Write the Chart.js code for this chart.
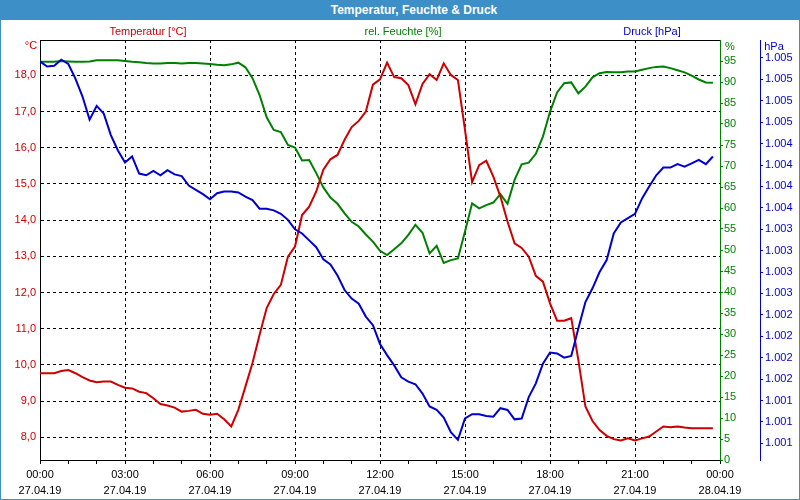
<!DOCTYPE html>
<html>
<head>
<meta charset="utf-8">
<script src="https://cdn.jsdelivr.net/npm/chart.js@4.4.1/dist/chart.umd.min.js"></script>
<style>
  body { margin: 0; background: #fff; font-family: "Liberation Sans", Arial, sans-serif; }
  #wrap { position: relative; width: 800px; height: 500px; overflow: hidden; }
  #grafik { display: block; }
  #rahmen { position: absolute; left: 0; top: 0; width: 800px; height: 500px; box-sizing: border-box; border: 1px solid #3d8fc7; pointer-events: none; }
  #titelbalken { position: absolute; left: 0; top: 0; width: 800px; height: 20px; background: #3d8fc7; }
  .lbl { position: absolute; font-size: 11px; white-space: nowrap; transform: translate(-50%, -50%); }
  .titel { color: #fff; font-weight: bold; font-size: 12px; }
</style>
</head>
<body>
<div id="wrap">
  <canvas id="grafik" width="800" height="500"></canvas>
  <div id="titelbalken"></div>
  <div class="lbl titel" style="left:414px; top:10px">Temperatur, Feuchte &amp; Druck</div>
  <div class="lbl" style="left:148px; top:31px; color:#cc0000">Temperatur [°C]</div>
  <div class="lbl" style="left:403px; top:31px; color:#008000">rel. Feuchte [%]</div>
  <div class="lbl" style="left:652px; top:31px; color:#0000cc">Druck [hPa]</div>
  <div class="lbl" style="left:31px; top:45px; color:#cc0000">°C</div>
  <div class="lbl" style="left:730px; top:46px; color:#008000">%</div>
  <div class="lbl" style="left:774px; top:46px; color:#0000cc">hPa</div>
  <div id="rahmen"></div>
</div>
<script>
// Messwerte alle 15 Minuten, 27.04.19 00:00 bis 23:45
const temperatur = [
  9.77, 9.77, 9.77, 9.83, 9.86, 9.77, 9.66, 9.57, 9.52, 9.54, 9.54, 9.45, 9.37, 9.35, 9.26, 9.22, 9.08, 8.92, 8.88, 8.82, 8.71, 8.73, 8.76, 8.65,
  8.62, 8.65, 8.50, 8.30, 8.76, 9.40, 10.05, 10.83, 11.57, 11.96, 12.21, 12.99, 13.27, 14.14, 14.37, 14.79, 15.39, 15.68, 15.80, 16.22, 16.57, 16.74, 17.00, 17.74,
  17.89, 18.35, 17.95, 17.92, 17.73, 17.20, 17.76, 18.03, 17.87, 18.33, 18.01, 17.87, 16.49, 15.05, 15.52, 15.64, 15.20, 14.65, 13.96, 13.36, 13.23, 12.99, 12.46, 12.30,
  11.70, 11.22, 11.22, 11.29, 10.14, 8.85, 8.45, 8.20, 8.04, 7.95, 7.91, 7.97, 7.91, 7.97, 8.02, 8.16, 8.30, 8.28, 8.30, 8.27, 8.25, 8.25, 8.25, 8.25
];
const feuchte = [
  94.8, 94.8, 94.8, 95.0, 94.9, 94.8, 94.8, 94.9, 95.2, 95.2, 95.2, 95.2, 95.0, 94.8, 94.7, 94.5, 94.4, 94.4, 94.5, 94.5, 94.4, 94.5, 94.5, 94.4,
  94.3, 94.1, 94.0, 94.2, 94.6, 93.5, 90.9, 86.9, 81.6, 78.6, 78.1, 75.0, 74.4, 71.3, 71.4, 68.3, 64.9, 62.5, 61.0, 58.7, 56.7, 55.6, 53.7, 52.0,
  49.8, 48.8, 50.2, 51.6, 53.6, 56.0, 54.1, 49.2, 51.0, 46.9, 47.6, 48.0, 54.4, 61.1, 59.9, 60.7, 61.3, 63.3, 61.0, 66.7, 70.4, 70.8, 72.9, 77.0,
  82.9, 87.5, 89.7, 89.9, 87.3, 88.9, 91.1, 92.1, 92.4, 92.3, 92.3, 92.5, 92.5, 92.9, 93.3, 93.6, 93.7, 93.3, 92.8, 92.3, 91.5, 90.6, 89.9, 89.8
];
const druck = [
  1005.21, 1005.15, 1005.16, 1005.23, 1005.18, 1005.01, 1004.80, 1004.53, 1004.69, 1004.60, 1004.35, 1004.17, 1004.03, 1004.10, 1003.90, 1003.88, 1003.93, 1003.88, 1003.94, 1003.89, 1003.87, 1003.76, 1003.71, 1003.66,
  1003.60, 1003.67, 1003.69, 1003.69, 1003.68, 1003.63, 1003.59, 1003.49, 1003.49, 1003.47, 1003.43, 1003.36, 1003.25, 1003.20, 1003.12, 1003.04, 1002.90, 1002.84, 1002.71, 1002.54, 1002.44, 1002.38, 1002.23, 1002.13,
  1001.91, 1001.78, 1001.66, 1001.52, 1001.47, 1001.44, 1001.33, 1001.18, 1001.14, 1001.05, 1000.88, 1000.79, 1001.04, 1001.09, 1001.09, 1001.07, 1001.06, 1001.16, 1001.14, 1001.03, 1001.04, 1001.29, 1001.45, 1001.68,
  1001.81, 1001.80, 1001.75, 1001.77, 1002.09, 1002.40, 1002.56, 1002.75, 1002.89, 1003.20, 1003.33, 1003.38, 1003.43, 1003.61, 1003.75, 1003.88, 1003.97, 1003.97, 1004.01, 1003.98, 1004.02, 1004.06, 1004.01, 1004.10
];

const stundenTicks = [0, 1, 2, 3, 4, 5, 6, 7, 8, 9, 10, 11, 12, 13, 14, 15, 16, 17, 18, 19, 20, 21, 22, 23, 24];
const zeitLabels = { 0: "00:00", 3: "03:00", 6: "06:00", 9: "09:00", 12: "12:00", 15: "15:00", 18: "18:00", 21: "21:00", 24: "00:00" };
const datumLabels = { 0: "27.04.19", 3: "27.04.19", 6: "27.04.19", 9: "27.04.19", 12: "27.04.19", 15: "27.04.19", 18: "27.04.19", 21: "27.04.19", 24: "28.04.19" };
const tempTicks = [8, 9, 10, 11, 12, 13, 14, 15, 16, 17, 18];
const feuchteTicks = [0, 5, 10, 15, 20, 25, 30, 35, 40, 45, 50, 55, 60, 65, 70, 75, 80, 85, 90, 95];
const druckTicks = [1000.75, 1001, 1001.25, 1001.5, 1001.75, 1002, 1002.25, 1002.5, 1002.75, 1003, 1003.25, 1003.5, 1003.75, 1004, 1004.25, 1004.5, 1004.75, 1005, 1005.25];

const ROT = "#cc0000", GRUEN = "#008000", BLAU = "#0000cc";

// Zeitpunkt in Stunden für jeden Messwert (15-Minuten-Raster)
const zeitpunkte = temperatur.map((_, i) => i / 4);
const punkte = (werte) => werte.map((v, i) => ({ x: zeitpunkte[i], y: v }));

function setzeTicks(liste) {
  return (scale) => { scale.ticks = liste.map(v => ({ value: v })); };
}

function formatHpa(v) {
  return String(Math.round(v)).replace(/(\d)(\d{3})$/, "$1.$2");
}

const rahmenOben = {
  id: "rahmenOben",
  beforeDatasetsDraw(chart) {
    const { ctx, chartArea } = chart;
    ctx.save();
    ctx.strokeStyle = "#000";
    ctx.lineWidth = 1;
    ctx.beginPath();
    ctx.moveTo(chartArea.left, chartArea.top + 0.5);
    ctx.lineTo(chartArea.right, chartArea.top + 0.5);
    ctx.stroke();
    ctx.restore();
  }
};

const schrift = { family: "'Liberation Sans', Arial, sans-serif", size: 11 };

new Chart(document.getElementById("grafik"), {
  type: "line",
  data: {
    datasets: [
      { label: "Druck [hPa]", data: punkte(druck), yAxisID: "yDruck", borderColor: BLAU, borderWidth: 2, pointRadius: 0 },
      { label: "Temperatur [°C]", data: punkte(temperatur), yAxisID: "yTemp", borderColor: ROT, borderWidth: 2, pointRadius: 0 },
      { label: "rel. Feuchte [%]", data: punkte(feuchte), yAxisID: "yFeuchte", borderColor: GRUEN, borderWidth: 2, pointRadius: 0 },
    ],
  },
  options: {
    responsive: false,
    animation: false,
    layout: { padding: { top: 40, left: 0, right: 0, bottom: 0 } },
    plugins: {
      legend: { display: false },
      title: { display: false },
      tooltip: { enabled: false },
    },
    scales: {
      x: {
        type: "linear",
        min: 0,
        max: 24,
        afterBuildTicks: setzeTicks(stundenTicks),
        afterFit: (s) => { s.height = 40; },
        grid: {
          color: (c) => (c.tick && c.tick.value % 3 === 0 && c.tick.value > 0 && c.tick.value < 24) ? "#000" : "rgba(0,0,0,0)",
          tickColor: "#000",
          tickLength: 4,
        },
        border: { color: "#000", width: 1, dash: [3, 3] },
        ticks: {
          autoSkip: false,
          maxRotation: 0,
          padding: 3,
          color: "#000",
          font: { ...schrift, lineHeight: "16px" },
          callback: (v) => zeitLabels[v] ? [zeitLabels[v], datumLabels[v]] : "",
        },
      },
      yTemp: {
        position: "left",
        min: 7.373,
        max: 18.975,
        afterBuildTicks: setzeTicks(tempTicks),
        afterFit: (s) => { s.width = 40; },
        grid: { color: "#000", drawTicks: false },
        border: { color: "#000", width: 1, dash: [3, 3] },
        ticks: {
          padding: 4,
          color: ROT,
          font: schrift,
          callback: (v) => v.toFixed(1).replace(".", ","),
        },
      },
      yFeuchte: {
        position: "right",
        weight: 0,
        min: 0,
        max: 100,
        afterBuildTicks: setzeTicks(feuchteTicks),
        afterFit: (s) => { s.width = 40; },
        grid: { drawOnChartArea: false, tickColor: GRUEN, tickLength: 3 },
        border: { color: GRUEN, width: 1 },
        ticks: { padding: 1, color: GRUEN, font: schrift },
      },
      yDruck: {
        position: "right",
        weight: 1,
        min: 1000.555,
        max: 1005.46,
        afterBuildTicks: setzeTicks(druckTicks),
        afterFit: (s) => { s.width = 40; },
        grid: { drawOnChartArea: false, tickColor: BLAU, tickLength: 3 },
        border: { color: BLAU, width: 1 },
        ticks: { padding: 2, color: BLAU, font: schrift, callback: (v) => formatHpa(v) },
      },
    },
  },
  plugins: [rahmenOben],
});
</script>
</body>
</html>
